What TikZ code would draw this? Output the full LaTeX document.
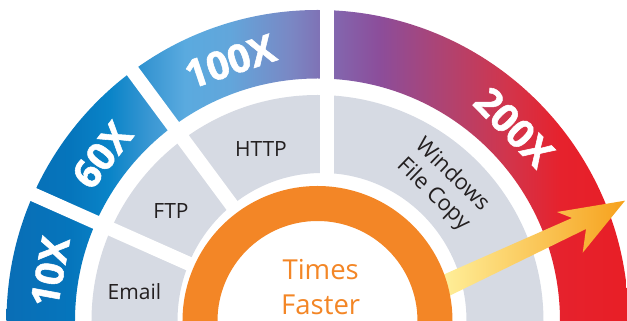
\documentclass[tikz,border=0pt]{standalone}
\usepackage{fontspec}
\setmainfont{Open Sans}
\newfontfamily\heavyfont{Open Sans}[BoldFeatures={FakeBold=1.4}]
\definecolor{graybg}{HTML}{D6DAE3}
\definecolor{ringorange}{HTML}{F38626}
\definecolor{darktext}{HTML}{231F20}
\definecolor{arrowlight}{HTML}{FFF3A0}
\definecolor{arrowdark}{HTML}{F6A11C}
\pgfdeclarehorizontalshading{bandshade}{100bp}{%
rgb(0bp)=(0.039,0.427,0.710);
rgb(25bp)=(0.039,0.427,0.710);
rgb(30.58bp)=(0.020,0.459,0.737);
rgb(33.77bp)=(0.039,0.518,0.784);
rgb(36.96bp)=(0.227,0.592,0.827);
rgb(39.75bp)=(0.353,0.667,0.875);
rgb(43.34bp)=(0.384,0.651,0.859);
rgb(48.13bp)=(0.478,0.533,0.769);
rgb(50.52bp)=(0.498,0.447,0.710);
rgb(51.71bp)=(0.514,0.400,0.682);
rgb(55.30bp)=(0.549,0.302,0.604);
rgb(60.89bp)=(0.698,0.259,0.431);
rgb(65.67bp)=(0.827,0.204,0.290);
rgb(69.66bp)=(0.902,0.133,0.176);
rgb(75bp)=(0.910,0.118,0.149);
rgb(100bp)=(0.910,0.118,0.149)}
\tikzset{
  bandlabel/.style={text=white, font=\fontsize{39}{39}\heavyfont\bfseries, inner sep=0pt},
  graylabel/.style={text=darktext, font=\fontsize{21}{26}\selectfont, inner sep=0pt},
  wfclabel/.style={text=darktext, font=\fontsize{22}{27}\selectfont, inner sep=0pt},
  ringlabel/.style={text=ringorange, font=\fontsize{27.5}{33}\selectfont, inner sep=0pt},
  gapline/.style={white, line width=14pt},
}
\begin{document}
\begin{tikzpicture}[x=1pt,y=1pt]
\useasboundingbox (-317.5,0) rectangle (309.5,321);
% coloured outer band
\begin{scope}
  \clip (311,0) arc[start angle=0,end angle=180,radius=311] -- (-242.5,0)
        arc[start angle=180,end angle=0,radius=242.5] -- cycle;
  \shade[shading=bandshade] (-317.5,0) rectangle (309.5,321);
\end{scope}
% grey middle band
\fill[graybg] (226,0) arc[start angle=0,end angle=180,radius=226] -- (-140,0)
      arc[start angle=180,end angle=0,x radius=144.5,y radius=148] -- cycle;
% white gaps between segments
\coordinate (c) at (0,0);
\coordinate (g1) at (156:330);
\coordinate (g2) at (126.5:330);
\coordinate (g3a) at (9.5,0);
\coordinate (g3b) at (9.5,330);
\draw[gapline] (c) -- (g1);
\draw[gapline] (c) -- (g2);
\draw[gapline] (g3a) -- (g3b);
% arrow
\shade[left color=arrowlight, right color=arrowdark]
  (115,41.5) -- (254.5,103) -- (239.5,109) -- (307.5,120.3) -- (265.2,68.3)
  -- (268.5,92) -- (115,16.9) -- cycle;
% orange ring
\fill[ringorange] (135,0) arc[start angle=0,end angle=180,radius=135] -- (-100,0)
      arc[start angle=180,end angle=0,radius=100] -- cycle;
% band labels
\node[bandlabel, rotate=79.6] (l10) at (169.6:272) {10X};
\node[bandlabel, rotate=52.4] (l60) at (142.4:272) {60X};
\node[bandlabel, rotate=18.6] (l100) at (108.6:274) {100X};
\node[bandlabel, rotate=-45.4] (l200) at (44.6:276) {200X};
% grey labels
\node[graylabel, anchor=base] (email) at (-183,21) {Email};
\node[graylabel, anchor=base] (ftp) at (-146.5,102.7) {FTP};
\node[graylabel, anchor=base] (http) at (-56.5,164) {HTTP};
\node[wfclabel, align=center, rotate=-44] (wfc) at (125,136) {Windows\\File Copy};
% centre labels
\node[ringlabel, anchor=base] (times) at (3.2,41) {Times};
\node[ringlabel, anchor=base] (faster) at (3.2,6) {Faster};
\end{tikzpicture}
\end{document}
